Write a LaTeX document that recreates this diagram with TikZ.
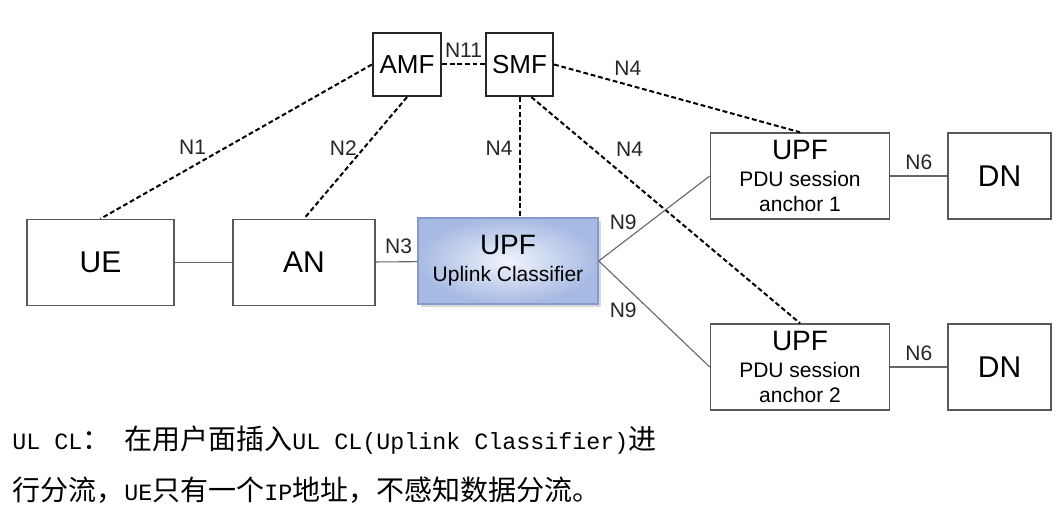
\documentclass[tikz,border=0pt]{standalone}
\usepackage{fontspec}
\setmainfont{Liberation Sans}
\setmonofont{Liberation Mono}[Scale=0.833]
\newfontfamily\cjk{Noto Sans CJK SC}
\usetikzlibrary{shadows}

\definecolor{ulin}{HTML}{F0F4FC}
\definecolor{ulout}{HTML}{A7BAE3}
\definecolor{uledge}{HTML}{8599CB}

\begin{document}
\begin{tikzpicture}[x=0.5pt,y=-0.5pt,
    box/.style={draw=black!65, line width=0.75pt, inner sep=0pt, minimum height=43pt, font=\fontsize{15}{17}\selectfont},
    ctrl/.style={draw=black!85, line width=1.1pt, inner sep=0pt, minimum width=34pt, minimum height=31.5pt, font=\fontsize{13}{15}\selectfont},
    upf/.style={box, minimum width=89.5pt, align=center, font=\fontsize{10.5}{12.5}\selectfont},
    sig/.style={black, line width=1pt, dash pattern=on 2.4pt off 1.4pt},
    usr/.style={black!60, line width=0.55pt},
    lbl/.style={text=black!85, font=\fontsize{10.5}{12}\selectfont, inner sep=1pt}]
    \useasboundingbox (0,0) rectangle (1064,512);

    %control plane
    \node[ctrl] (amf) at (407,64.5) {AMF};
    \node[ctrl, minimum width=33.5pt] (smf) at (519.5,64.5) {SMF};

    %user plane
    \node[box, minimum width=73.5pt] (ue) at (100.5,262.5) {UE};
    \node[box, minimum width=71pt] (an) at (304,262.5) {AN};
    \node[upf, minimum width=90pt, draw=uledge, inner color=ulin, outer color=ulout,
          drop shadow={shadow xshift=1.5pt, shadow yshift=-1.5pt, opacity=0.3}] (ulcl) at (508,261)
          {{\fontsize{14}{14}\selectfont UPF}\\[1pt]Uplink Classifier};
    \node[upf] (upfa) at (800,176) {{\fontsize{14}{14}\selectfont UPF}\\[1pt]PDU session\\anchor 1};
    \node[upf] (upfb) at (800,367) {{\fontsize{14}{14}\selectfont UPF}\\[1pt]PDU session\\anchor 2};
    \node[box, minimum width=51.5pt] (dna) at (999.5,176) {DN};
    \node[box, minimum width=51.5pt] (dnb) at (999.5,367) {DN};

    %signalling
    \draw[sig] (amf) -- (smf) node[lbl, midway, above=2pt] {N11};
    \draw[sig] (amf.west) -- (ue.north) node[lbl, pos=0.6, above left=0pt] {N1};
    \draw[sig] (amf.south) -- (an.north) node[lbl, pos=0.42, left=2pt] {N2};
    \draw[sig] (smf.east) -- (upfa.north) node[lbl, pos=0.3, above=3pt] {N4};
    \draw[sig] (smf.south) -- (smf.south |- ulcl.north) node[lbl, pos=0.43, left=2pt] {N4};
    \draw[sig] (smf.-70) -- (upfb.north) node[lbl, pos=0.23, right=10pt] {N4};

    %data path
    \draw[usr] (ue) -- (an);
    \draw[usr] (an) -- (ulcl) node[lbl, pos=0.55, above=3pt] {N3};
    \draw[usr] (ulcl.east) -- (upfa.west) node[lbl, pos=0.22, above=5pt] {N9};
    \draw[usr] (ulcl.east) -- (upfb.west) node[lbl, pos=0.22, below=8pt] {N9};
    \draw[usr] (upfa) -- (dna) node[lbl, midway, above=2pt] {N6};
    \draw[usr] (upfb) -- (dnb) node[lbl, midway, above=2pt] {N6};

    %note
    \node[anchor=west, inner sep=0pt, font=\cjk\fontsize{14}{16}\selectfont] (note1) at (12,440)
        {\texttt{UL CL}：\texttt{~}在用户面插入\texttt{UL CL(Uplink Classifier)}进};
    \node[anchor=west, inner sep=0pt, font=\cjk\fontsize{14}{16}\selectfont] (note2) at (12,490)
        {行分流，\texttt{UE}只有一个\texttt{IP}地址，不感知数据分流。};
\end{tikzpicture}
\end{document}
